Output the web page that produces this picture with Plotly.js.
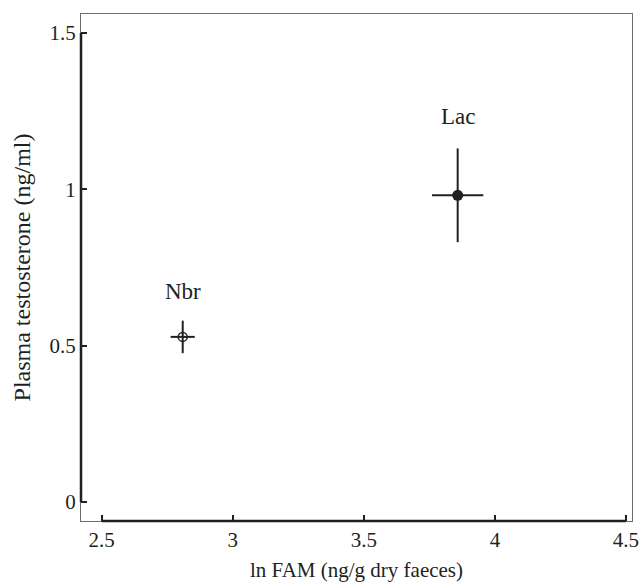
<!DOCTYPE html>
<html>
<head>
<meta charset="utf-8">
<script src="https://cdn.plot.ly/plotly-3.0.1.min.js"></script>
<style>html,body{margin:0;padding:0;background:#fff;}#chart{width:640px;height:584px;}</style>
</head>
<body>
<div id="chart"></div>
<script>
// Data
const groups = ["Nbr", "Lac"];
const lnFAM = [2.809, 3.858];
const lnFAMErr = [0.046, 0.098];
const testosterone = [0.528, 0.981];
const testosteroneErr = [0.052, 0.150];
const labelY = [0.674, 1.233];
const xTicks = [2.5, 3, 3.5, 4, 4.5];
const xTickText = ["2.5", "3", "3.5", "4", "4.5"];
const yTicks = [0, 0.5, 1, 1.5];
const yTickText = ["0", "0.5", "1", "1.5"];

const ink = "#231f20";
const fam = "Liberation Serif, Times New Roman, serif";
const tickFont = {family: fam, size: 21, color: ink};
const xTitleFont = {family: fam, size: 21, color: ink};
const yTitleFont = {family: fam, size: 24, color: ink};
const labelFont = {family: fam, size: 23, color: ink};

const traces = groups.map((g, i) => ({
  type: "scatter",
  mode: "markers",
  x: [lnFAM[i]],
  y: [testosterone[i]],
  error_x: {type: "data", array: [lnFAMErr[i]], color: ink, thickness: 2, width: 0},
  error_y: {type: "data", array: [testosteroneErr[i]], color: ink, thickness: 2, width: 0},
  marker: i === 0
    ? {symbol: "circle-open", size: 9, color: ink, line: {width: 1.5, color: ink}}
    : {symbol: "circle", size: 11, color: ink},
  showlegend: false,
  hoverinfo: "skip"
}));

const annotations = groups.map((g, i) => ({
  x: lnFAM[i], y: labelY[i], xref: "x", yref: "y",
  text: g, showarrow: false, font: labelFont
}));

const shapes = [
  {type: "line", xref: "x", yref: "paper", x0: xTicks[0], x1: xTicks[xTicks.length - 1], y0: 0, y1: 0,
   line: {color: ink, width: 2.5}},
  {type: "line", xref: "paper", yref: "y", x0: 0, x1: 0, y0: yTicks[0], y1: yTicks[yTicks.length - 1],
   line: {color: ink, width: 2.5}}
];

const layout = {
  width: 640, height: 584,
  margin: {l: 81, r: 8, t: 14, b: 63},
  paper_bgcolor: "#fff", plot_bgcolor: "#fff",
  font: tickFont,
  xaxis: {
    range: [2.421, 4.523],
    tickvals: xTicks, ticktext: xTickText,
    ticks: "inside", ticklen: 6, tickwidth: 2, tickcolor: ink,
    showline: true, linecolor: "#6d6d6d", linewidth: 1, mirror: true,
    showgrid: false, zeroline: false,
    tickfont: tickFont,
    title: {text: "ln FAM (ng/g dry faeces)", font: xTitleFont, standoff: 11}
  },
  yaxis: {
    range: [-0.061, 1.561],
    tickvals: yTicks, ticktext: yTickText,
    ticks: "inside", ticklen: 6, tickwidth: 2, tickcolor: ink,
    showline: true, linecolor: "#6d6d6d", linewidth: 1, mirror: true,
    showgrid: false, zeroline: false,
    tickfont: tickFont,
    title: {text: "Plasma testosterone (ng/ml)", font: yTitleFont, standoff: 12}
  },
  annotations: annotations,
  shapes: shapes
};

Plotly.newPlot("chart", traces, layout, {staticPlot: true, displayModeBar: false});
</script>
</body>
</html>
